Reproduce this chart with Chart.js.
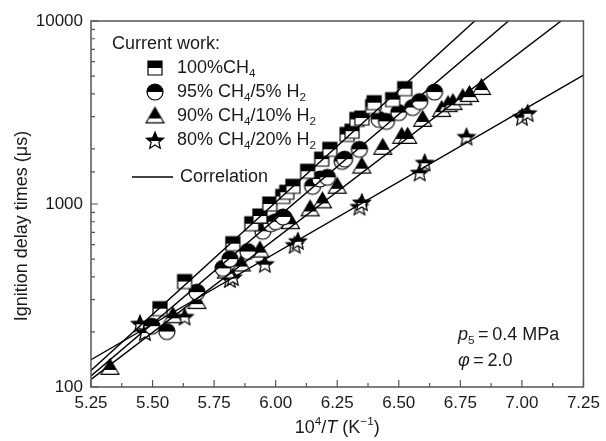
<!DOCTYPE html>
<html>
<head>
<meta charset="utf-8">
<script src="https://cdn.jsdelivr.net/npm/chart.js@4.4.1/dist/chart.umd.min.js"></script>
<style>
  html, body { margin: 0; padding: 0; background: #fff; }
</style>
</head>
<body>
<canvas id="chart" width="606" height="441"></canvas>
<script>
// Values (x = 10^4/T, y = ignition delay in microseconds)
const xTickVals = [5.25, 5.50, 5.75, 6.00, 6.25, 6.50, 6.75, 7.00, 7.25];
const yTickVals = [100, 1000, 10000];

const ch4X = [5.53, 5.63, 5.826, 5.903, 5.936, 5.976, 6.029, 6.045, 6.07, 6.13, 6.187, 6.22, 6.29, 6.31, 6.33, 6.35, 6.394, 6.40, 6.475, 6.524];
const ch4Y = [268, 377, 607, 780, 860, 1000, 1100, 1160, 1250, 1510, 1760, 1990, 2400, 2500, 2900, 2950, 3410, 3580, 3720, 4270];

const h5X = [5.497, 5.558, 5.68, 5.786, 5.814, 5.887, 5.948, 5.98, 6.00, 6.03, 6.15, 6.18, 6.21, 6.27, 6.28, 6.34, 6.42, 6.45, 6.50, 6.556, 6.585, 6.645];
const h5Y = [215, 201, 330, 445, 500, 550, 710, 780, 800, 850, 1250, 1370, 1400, 1710, 1760, 1990, 2900, 2830, 3160, 3370, 3630, 4090];

const h10X = [5.327, 5.583, 5.68, 5.80, 5.86, 5.936, 6.06, 6.14, 6.19, 6.25, 6.35, 6.435, 6.512, 6.536, 6.597, 6.674, 6.70, 6.72, 6.76, 6.787, 6.836];
const h10Y = [128, 245, 293, 430, 470, 560, 800, 940, 1040, 1250, 1610, 2040, 2340, 2340, 2900, 3280, 3490, 3580, 3810, 3960, 4330];

const h20X = [5.449, 5.469, 5.63, 5.814, 5.826, 5.956, 6.077, 6.09, 6.34, 6.35, 6.585, 6.605, 6.775, 7.00, 7.023];
const h20Y = [223, 200, 243, 390, 400, 472, 600, 630, 970, 1025, 1490, 1690, 2340, 3000, 3150];

// correlation lines, end values at x = 5.25 and x = 7.25
const corrX = [5.25, 7.25];
const corrCh4 = [123, 34800];
const corrH5 = [115, 22300];
const corrH10 = [110, 12400];
const corrH20 = [141, 5060];

const FONT = '"Liberation Sans", Arial, sans-serif';
const INK = '#1a1a1a';

// half-filled marker images
function makeMarker(kind, size) {
    const s = size + 4;
    const c = document.createElement('canvas');
    c.width = s; c.height = s;
    const g = c.getContext('2d');
    const m = s / 2, r = size / 2;
    let cut = m;
    const path = () => {
        g.beginPath();
        if (kind === 'square') {
            g.rect(m - r, m - r, size, size);
        } else if (kind === 'circle') {
            g.arc(m, m, r, 0, Math.PI * 2);
        } else if (kind === 'triangle') {
            g.moveTo(m, m - r);
            g.lineTo(m + r * 1.05, m + r * 0.8);
            g.lineTo(m - r * 1.05, m + r * 0.8);
            g.closePath();
        } else {
            for (let k = 0; k < 10; k++) {
                const a = -Math.PI / 2 + k * Math.PI / 5;
                const rr = k % 2 ? r * 0.45 : r;
                const px = m + rr * Math.cos(a), py = m + 1 + rr * Math.sin(a);
                if (k === 0) g.moveTo(px, py); else g.lineTo(px, py);
            }
            g.closePath();
        }
    };
    if (kind === 'triangle') cut = m + r * 0.3;
    if (kind === 'star') cut = m + 1;
    path(); g.fillStyle = '#fff'; g.fill();
    g.save();
    g.beginPath(); g.rect(0, 0, s, cut); g.clip();
    path(); g.fillStyle = '#000'; g.fill();
    g.restore();
    path(); g.lineWidth = 1.2; g.strokeStyle = '#000'; g.stroke();
    return c;
}

const mkSquare = makeMarker('square', 14);
const mkCircle = makeMarker('circle', 16);
const mkTri = makeMarker('triangle', 17);
const mkStar = makeMarker('star', 18);

function pts(xs, ys) { return xs.map((x, i) => ({ x: x, y: ys[i] })); }

// text with sub/superscripts and italics
function richWidth(ctx, parts, size) {
    let w = 0;
    parts.forEach(p => {
        const fs = p.s ? size * 0.65 : size;
        ctx.font = (p.i ? 'italic ' : '') + fs + 'px ' + FONT;
        w += ctx.measureText(p.t).width;
    });
    return w;
}
function rich(ctx, parts, x, y, size) {
    parts.forEach(p => {
        const fs = p.s ? size * 0.65 : size;
        ctx.font = (p.i ? 'italic ' : '') + fs + 'px ' + FONT;
        const dy = p.s === 'sub' ? size * 0.3 : (p.s === 'sup' ? -size * 0.35 : 0);
        ctx.fillText(p.t, x, y + dy);
        x += ctx.measureText(p.t).width;
    });
}

const legendItems = [
    { img: mkSquare, parts: [{ t: '100%CH' }, { t: '4', s: 'sub' }] },
    { img: mkCircle, parts: [{ t: '95% CH' }, { t: '4', s: 'sub' }, { t: '/5% H' }, { t: '2', s: 'sub' }] },
    { img: mkTri, parts: [{ t: '90% CH' }, { t: '4', s: 'sub' }, { t: '/10% H' }, { t: '2', s: 'sub' }] },
    { img: mkStar, parts: [{ t: '80% CH' }, { t: '4', s: 'sub' }, { t: '/20% H' }, { t: '2', s: 'sub' }] }
];

const decorPlugin = {
    id: 'decor',
    afterDraw(chart) {
        const ctx = chart.ctx;
        const a = chart.chartArea;
        const xs = chart.scales.x, ys = chart.scales.y;
        ctx.save();
        // frame
        ctx.strokeStyle = '#555';
        ctx.lineWidth = 1.5;
        ctx.strokeRect(a.left, a.top, a.right - a.left, a.bottom - a.top);
        // inward ticks
        ctx.lineWidth = 1.2;
        ctx.beginPath();
        xs.ticks.forEach(t => {
            const px = xs.getPixelForValue(t.value);
            const major = xTickVals.some(v => Math.abs(v - t.value) < 1e-6);
            ctx.moveTo(px, a.bottom);
            ctx.lineTo(px, a.bottom - (major ? 7 : 4));
        });
        ys.ticks.forEach(t => {
            const py = ys.getPixelForValue(t.value);
            const major = yTickVals.includes(t.value);
            ctx.moveTo(a.left, py);
            ctx.lineTo(a.left + (major ? 7 : 4), py);
        });
        ctx.stroke();

        ctx.fillStyle = INK;
        ctx.textBaseline = 'middle';
        ctx.textAlign = 'left';
        // legend
        ctx.font = '18px ' + FONT;
        ctx.fillText('Current work:', 112, 44);
        legendItems.forEach((it, i) => {
            const y = 68 + i * 24;
            ctx.drawImage(it.img, 155 - it.img.width / 2, y - it.img.height / 2);
            rich(ctx, it.parts, 177, y, 18);
        });
        ctx.strokeStyle = '#000';
        ctx.lineWidth = 1.5;
        ctx.beginPath();
        ctx.moveTo(132, 177); ctx.lineTo(173, 177);
        ctx.stroke();
        ctx.font = '18px ' + FONT;
        ctx.fillText('Correlation', 180, 177);

        // conditions
        rich(ctx, [{ t: 'p', i: true }, { t: '5', s: 'sub' }, { t: '\u2009=\u20090.4 MPa' }], 458, 335, 18);
        rich(ctx, [{ t: '\u03c6', i: true }, { t: '\u2009=\u20092.0' }], 458, 361, 18);

        // x title
        const xt = [{ t: '10' }, { t: '4', s: 'sup' }, { t: '/' }, { t: 'T', i: true }, { t: ' (K' }, { t: '\u22121', s: 'sup' }, { t: ')' }];
        const w = richWidth(ctx, xt, 18);
        rich(ctx, xt, (a.left + a.right) / 2 - w / 2, 428, 18);

        // y title
        ctx.translate(22, 226);
        ctx.rotate(-Math.PI / 2);
        ctx.textAlign = 'center';
        ctx.font = '18px ' + FONT;
        ctx.fillText('Ignition delay times (\u03bcs)', 0, 0);
        ctx.restore();
    }
};

const lineStyle = { showLine: true, pointRadius: 0, borderColor: '#000', borderWidth: 1.4, order: 0 };

new Chart(document.getElementById('chart').getContext('2d'), {
    type: 'scatter',
    data: {
        datasets: [
            { label: '100%CH4', data: pts(ch4X, ch4Y), pointStyle: mkSquare, order: 1 },
            { label: '95% CH4/5% H2', data: pts(h5X, h5Y), pointStyle: mkCircle, order: 1 },
            { label: '90% CH4/10% H2', data: pts(h10X, h10Y), pointStyle: mkTri, order: 1 },
            { label: '80% CH4/20% H2', data: pts(h20X, h20Y), pointStyle: mkStar, order: 1 },
            Object.assign({ label: 'c1', data: pts(corrX, corrCh4) }, lineStyle),
            Object.assign({ label: 'c2', data: pts(corrX, corrH5) }, lineStyle),
            Object.assign({ label: 'c3', data: pts(corrX, corrH10) }, lineStyle),
            Object.assign({ label: 'c4', data: pts(corrX, corrH20) }, lineStyle)
        ]
    },
    options: {
        responsive: false,
        animation: false,
        devicePixelRatio: 1,
        layout: { padding: { top: 21, right: 22, left: 0, bottom: 0 } },
        plugins: { legend: { display: false }, tooltip: { enabled: false } },
        scales: {
            x: {
                type: 'linear',
                min: 5.25,
                max: 7.25,
                afterFit(scale) { scale.height = 54; },
                afterBuildTicks(scale) {
                    const t = [];
                    for (let v = 5.25; v <= 7.2501; v += 0.125) t.push({ value: Math.round(v * 1000) / 1000 });
                    scale.ticks = t;
                },
                grid: { display: false, drawTicks: false },
                border: { display: false },
                ticks: {
                    autoSkip: false,
                    maxRotation: 0,
                    padding: 6,
                    color: INK,
                    font: { family: FONT, size: 17 },
                    callback: v => xTickVals.some(t => Math.abs(t - v) < 1e-6) ? v.toFixed(2) : ''
                }
            },
            y: {
                type: 'logarithmic',
                min: 100,
                max: 10000,
                afterFit(scale) { scale.width = 91; },
                grid: { display: false, drawTicks: false },
                border: { display: false },
                ticks: {
                    autoSkip: false,
                    padding: 8,
                    color: INK,
                    font: { family: FONT, size: 17 },
                    callback: v => yTickVals.includes(v) ? String(v) : ''
                }
            }
        }
    },
    plugins: [decorPlugin]
});
</script>
</body>
</html>
